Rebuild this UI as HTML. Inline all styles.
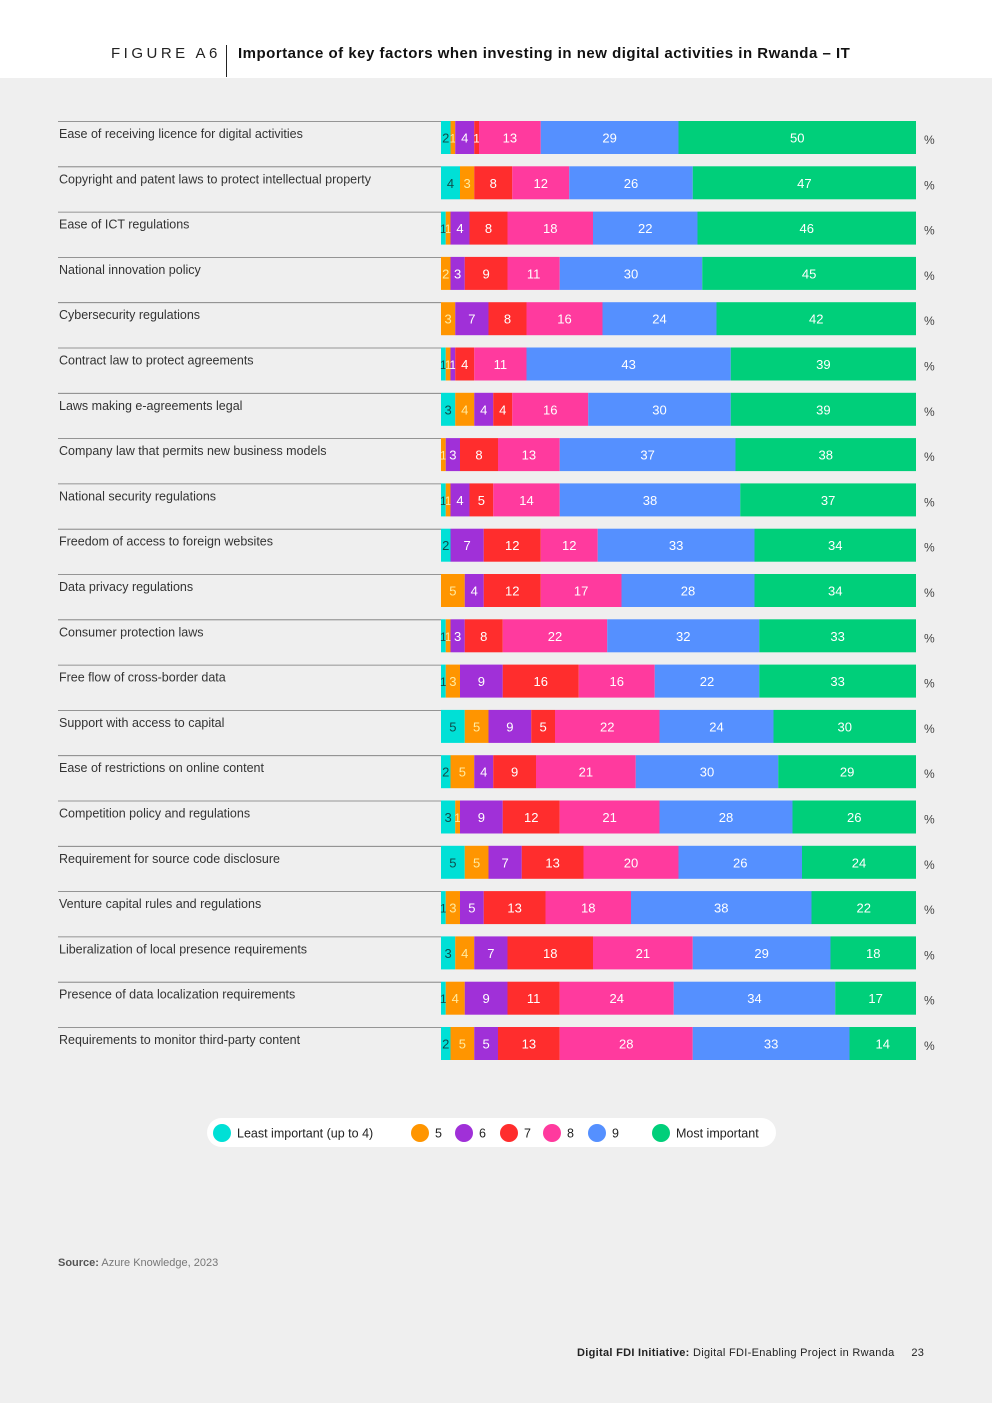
<!DOCTYPE html>
<html><head><meta charset="utf-8">
<style>
body{margin:0;width:992px;height:1403px;background:#efefef;font-family:"Liberation Sans",sans-serif;overflow:hidden;position:relative}
.hdr{position:absolute;left:0;top:0;width:992px;height:78px;background:#fff}
.fig{position:absolute;left:111px;top:45px;font-size:15px;letter-spacing:3.5px;color:#222}
.vl{position:absolute;left:226px;top:45px;width:1px;height:32px;background:#222}
.ttl{position:absolute;left:238px;top:45px;font-size:15px;letter-spacing:0.5px;font-weight:bold;color:#111}
.src{position:absolute;left:58px;top:1257px;font-size:11px;color:#777}
.ft{position:absolute;left:577px;top:1347px;font-size:11px;letter-spacing:0.3px;color:#222}
</style></head><body>
<div class="hdr"></div>
<div class="fig">FIGURE A6</div>
<div class="vl"></div>
<div class="ttl">Importance of key factors when investing in new digital activities in Rwanda – IT</div>
<svg id="chart" width="992" height="1403" style="position:absolute;left:0;top:0"></svg>
<div class="src"><b style="color:#555">Source:</b> Azure Knowledge, 2023</div>
<div class="ft"><b>Digital FDI Initiative:</b> Digital FDI-Enabling Project in Rwanda &nbsp;&nbsp;&nbsp; 23</div>
<script>
const categories=["Ease of receiving licence for digital activities","Copyright and patent laws to protect intellectual property","Ease of ICT regulations","National innovation policy","Cybersecurity regulations","Contract law to protect agreements","Laws making e-agreements legal","Company law that permits new business models","National security regulations","Freedom of access to foreign websites","Data privacy regulations","Consumer protection laws","Free flow of cross-border data","Support with access to capital","Ease of restrictions on online content","Competition policy and regulations","Requirement for source code disclosure","Venture capital rules and regulations","Liberalization of local presence requirements","Presence of data localization requirements","Requirements to monitor third-party content"];
const seriesNames=["Least important (up to 4)","5","6","7","8","9","Most important"];
const least=[2,4,1,0,0,1,3,0,1,2,0,1,1,5,2,3,5,1,3,1,2];
const s5=[1,3,1,2,3,1,4,1,1,0,5,1,3,5,5,1,5,3,4,4,5];
const s6=[4,0,4,3,7,1,4,3,4,7,4,3,9,9,4,9,7,5,7,9,5];
const s7=[1,8,8,9,8,4,4,8,5,12,12,8,16,5,9,12,13,13,18,11,13];
const s8=[13,12,18,11,16,11,16,13,14,12,17,22,16,22,21,21,20,18,21,24,28];
const s9=[29,26,22,30,24,43,30,37,38,33,28,32,22,24,30,28,26,38,29,34,33];
const most=[50,47,46,45,42,39,39,38,37,34,34,33,33,30,29,26,24,22,18,17,14];
const series=[least,s5,s6,s7,s8,s9,most];
const colors=["#00e0d6","#ff9500","#a030d8","#ff2d2d","#ff3a9e","#5590ff","#00cf7a"];
const textCol=["#0d4f4d","#ffeaa0","#fff","#fff","#fff","#fff","#fff"];
const svg=document.getElementById('chart');const NS="http://www.w3.org/2000/svg";
const x0=441,x1=916,yTop=121,step=45.3,bh=33;
const xs=v=>v*(x1-x0)/100;
function mk(t,a){const e=document.createElementNS(NS,t);for(const k in a)e.setAttribute(k,a[k]);svg.appendChild(e);return e;}
categories.forEach((c,i)=>{
  const y=yTop+i*step;
  const ln=mk('line',{x1:58,x2:x0,y1:y+0.5,y2:y+0.5,stroke:'#777','stroke-width':0.8});
  
  
  const lb=mk('text',{x:59,y:y+17,'font-size':12.5,fill:'#333'});lb.textContent=c;
  
  
  let acc=0;
  series.forEach((s,j)=>{
    const v=s[i];if(!v)return;
    const r=mk('rect',{x:x0+xs(acc),y:y,width:xs(v),height:bh,fill:colors[j]});
    
    
    const t=mk('text',{x:x0+xs(acc+v/2),y:y+bh/2+5,'font-size':v<2?12:13,'text-anchor':'middle',fill:textCol[j]});
    t.textContent=v;
    
    
    acc+=v;
  });
  const p=mk('text',{x:924,y:y+23,'font-size':12,fill:'#444'});p.textContent='%';
  
  
});
const lg=mk('rect',{x:207,y:1118,width:569,height:29,rx:14.5,fill:'#fff'});


const lx=[222,420,464,509,552,597,661];
seriesNames.forEach((n,j)=>{
  const c=mk('circle',{cx:lx[j],cy:1133,r:9,fill:colors[j]});
  
  
  const t=mk('text',{x:lx[j]+15,y:1137.5,'font-size':12.5,fill:'#222'});t.textContent=n;
  
  
});
</script>
</body></html>
